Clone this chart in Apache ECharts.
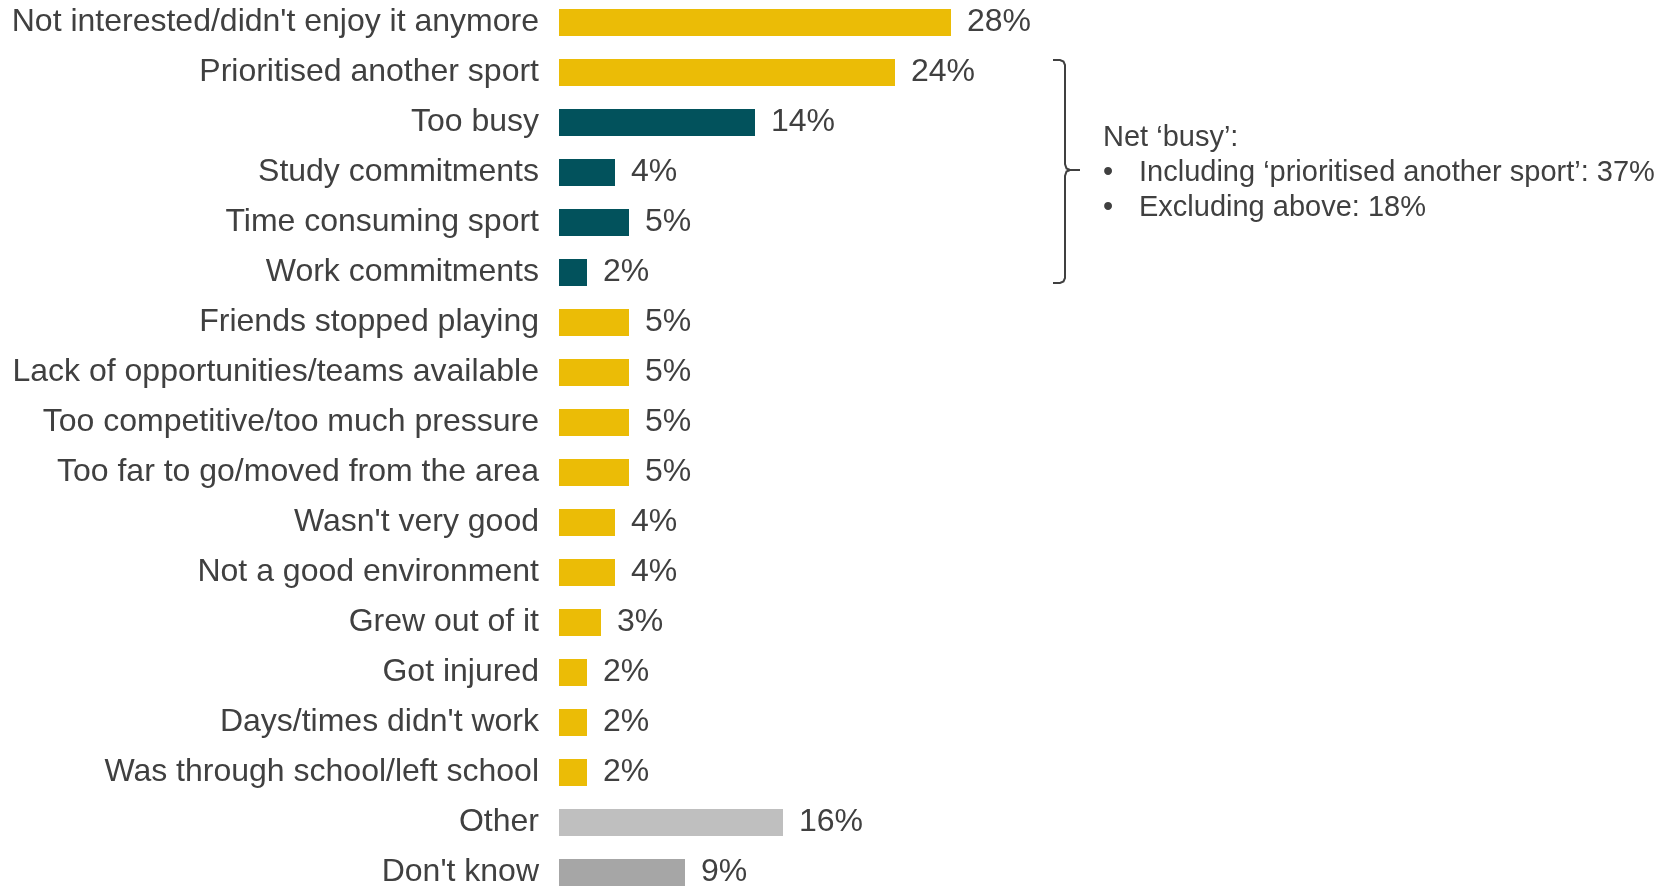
<!DOCTYPE html>
<html>
<head>
<meta charset="utf-8">
<title>Reasons for stopping</title>
<script src="https://cdn.jsdelivr.net/npm/echarts@6/dist/echarts.min.js"></script>
<style>
  html, body { margin: 0; padding: 0; background: #ffffff; }
  #chart { width: 1665px; height: 887px; }
</style>
</head>
<body>
<div id="chart"></div>
<script>
// Reasons, top to bottom
const categories = [
  "Not interested/didn't enjoy it anymore",
  "Prioritised another sport",
  "Too busy",
  "Study commitments",
  "Time consuming sport",
  "Work commitments",
  "Friends stopped playing",
  "Lack of opportunities/teams available",
  "Too competitive/too much pressure",
  "Too far to go/moved from the area",
  "Wasn't very good",
  "Not a good environment",
  "Grew out of it",
  "Got injured",
  "Days/times didn't work",
  "Was through school/left school",
  "Other",
  "Don't know"
];

// Share of respondents (%)
const values = [28, 24, 14, 4, 5, 2, 5, 5, 5, 5, 4, 4, 3, 2, 2, 2, 16, 9];

// Which group each reason belongs to
const groups = [
  "reason", "reason", "busy", "busy", "busy", "busy",
  "reason", "reason", "reason", "reason", "reason", "reason",
  "reason", "reason", "reason", "reason", "other", "dontknow"
];

// Net 'busy' note
const noteTitle = "Net \u2018busy\u2019:";
const noteLines = [
  "Including \u2018prioritised another sport\u2019: 37%",
  "Excluding above: 18%"
];

const groupColors = {
  reason: "#EBBC06",
  busy: "#02525C",
  other: "#BFBFBF",
  dontknow: "#A6A6A6"
};

const FONT = "'Liberation Sans', Arial, sans-serif";
const TEXT = "#404040";
const NOTE_FONT = "29px " + FONT;

const chart = echarts.init(document.getElementById("chart"));

// Brace next to the "busy" group
const braceStyle = { fill: null, stroke: TEXT, lineWidth: 2 };
const graphic = [
  {
    type: "polyline",
    shape: { points: [[1053, 60], [1060, 60], [1063.5, 61.5], [1065, 65], [1065, 164], [1066.5, 168.5], [1070, 170], [1080, 170]] },
    style: braceStyle
  },
  {
    type: "polyline",
    shape: { points: [[1070, 170], [1066.5, 171.5], [1065, 176], [1065, 278], [1063.5, 281.5], [1060, 283], [1053, 283]] },
    style: braceStyle
  },
  {
    type: "text",
    x: 1103, y: 138,
    style: { text: noteTitle, font: NOTE_FONT, fill: TEXT, verticalAlign: "middle" }
  }
];
noteLines.forEach((line, i) => {
  const y = 173 + i * 34.5;
  graphic.push({
    type: "text",
    x: 1103, y: y,
    style: { text: "\u2022", font: NOTE_FONT, fill: TEXT, verticalAlign: "middle" }
  });
  graphic.push({
    type: "text",
    x: 1139, y: y,
    style: { text: line, font: NOTE_FONT, fill: TEXT, verticalAlign: "middle" }
  });
});

chart.setOption({
  animation: false,
  backgroundColor: "#ffffff",
  grid: {
    left: 559, top: -2.5, width: 560, height: 900,
    containLabel: false,
    outerBoundsMode: "none"
  },
  xAxis: {
    type: "value",
    min: 0, max: 40,
    show: false
  },
  yAxis: {
    type: "category",
    data: categories,
    inverse: true,
    axisLine: { show: false },
    axisTick: { show: false },
    splitLine: { show: false },
    axisLabel: {
      margin: 20,
      fontFamily: FONT,
      fontSize: 32,
      color: TEXT,
      padding: [3, 0, 0, 0]
    }
  },
  series: [{
    type: "bar",
    barWidth: 27,
    data: values.map((v, i) => ({
      value: v,
      itemStyle: { color: groupColors[groups[i]] }
    })),
    label: {
      show: true,
      position: "right",
      distance: 16,
      formatter: p => p.value + "%",
      fontFamily: FONT,
      fontSize: 32,
      color: TEXT,
      padding: [3, 0, 0, 0]
    }
  }],
  graphic: graphic
});
</script>
</body>
</html>
